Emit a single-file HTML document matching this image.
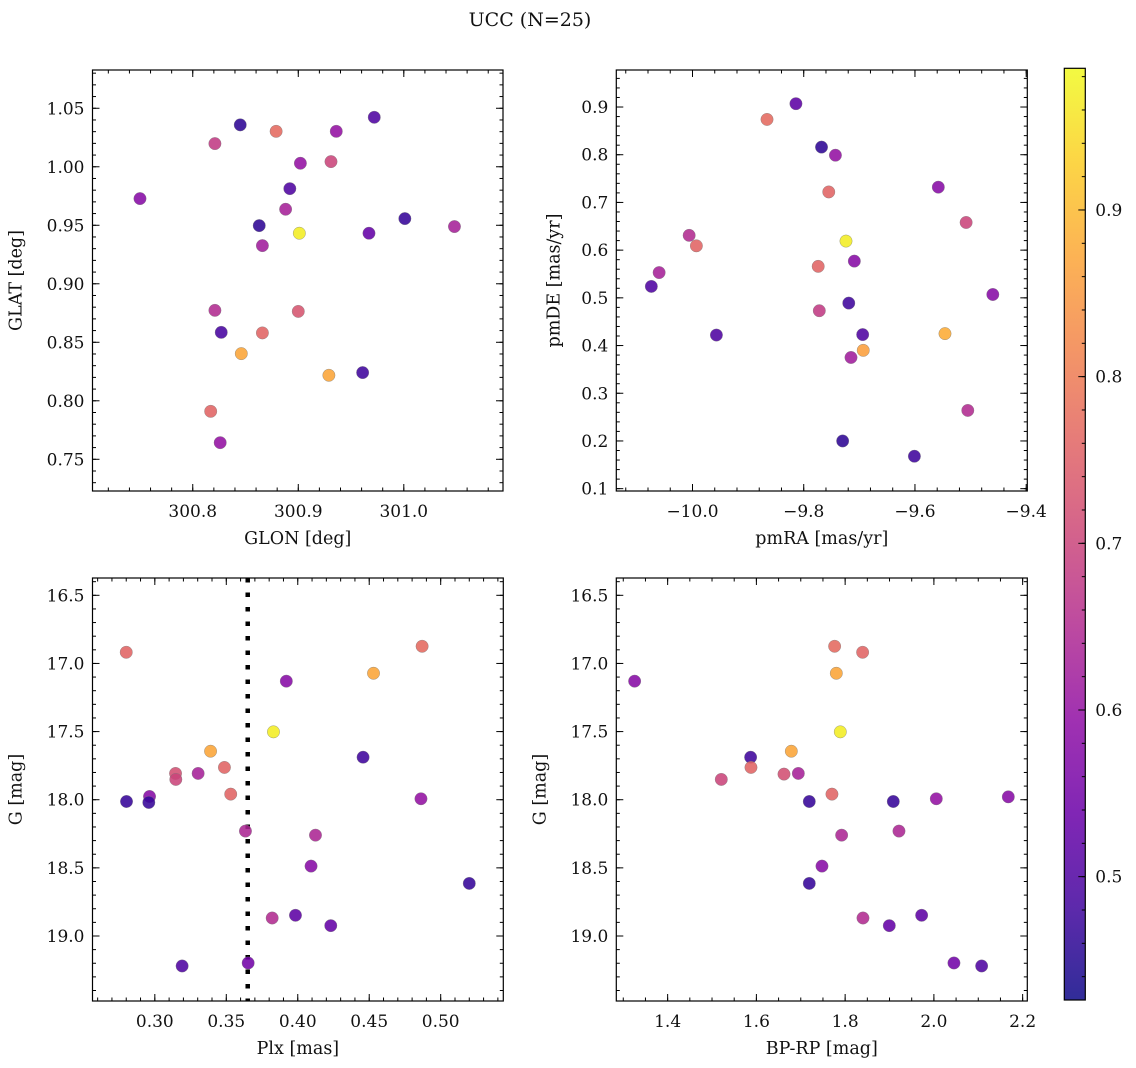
<!DOCTYPE html>
<html><head><meta charset="utf-8"><title>UCC (N=25)</title>
<style>
html,body{margin:0;padding:0;background:#fff;}
svg{display:block;font-family:"DejaVu Serif","Liberation Serif",serif;}
</style></head>
<body>
<svg id="fig" width="1136" height="1068" viewBox="0 0 1136 1068" xmlns="http://www.w3.org/2000/svg">
<defs>
<linearGradient id="plasmaGrad" x1="0" y1="1" x2="0" y2="0"></linearGradient>
</defs>
<text x="530" y="26" text-anchor="middle" font-size="19" fill="#111">UCC (N=25)</text>
</svg>
<script>
// ---- data ----
const prob = [0.58,0.68,0.46,0.77,0.60,0.70,0.60,0.50,0.50,0.63,0.46,0.97,0.62,0.53,0.47,0.63,0.65,0.73,0.49,0.76,0.87,0.87,0.48,0.76,0.60];
const glon = [300.750,300.821,300.845,300.879,300.902,300.931,300.936,300.972,300.892,300.888,300.863,300.901,300.866,300.967,301.001,301.048,300.821,300.900,300.827,300.866,300.846,300.929,300.961,300.817,300.826];
const glat = [0.9728,1.0198,1.0358,1.0303,1.0030,1.0044,1.0303,1.0423,0.9813,0.9637,0.9497,0.9432,0.9326,0.9432,0.9557,0.9489,0.8773,0.8764,0.8585,0.8580,0.8403,0.8218,0.8241,0.7910,0.7642];

const probPM = [0.52,0.77,0.46,0.60,0.76,0.58,0.70,0.65,0.76,0.97,0.63,0.76,0.58,0.50,0.58,0.48,0.68,0.50,0.50,0.88,0.86,0.62,0.65,0.46,0.48];
const pmra = [-9.814,-9.866,-9.768,-9.743,-9.755,-9.558,-9.508,-10.006,-9.993,-9.724,-10.060,-9.774,-9.709,-10.074,-9.460,-9.719,-9.772,-9.957,-9.694,-9.546,-9.693,-9.715,-9.505,-9.730,-9.601];
const pmde = [0.907,0.874,0.816,0.799,0.722,0.732,0.658,0.631,0.609,0.619,0.553,0.566,0.577,0.524,0.507,0.489,0.473,0.422,0.423,0.425,0.390,0.375,0.264,0.200,0.168];

const probPlx = [0.76,0.77,0.87,0.58,0.97,0.87,0.48,0.76,0.72,0.70,0.63,0.76,0.58,0.47,0.47,0.60,0.64,0.64,0.58,0.47,0.65,0.52,0.53,0.50,0.55];
const plx = [0.280,0.487,0.453,0.392,0.383,0.339,0.4457,0.3487,0.3145,0.3147,0.3303,0.3531,0.2963,0.2802,0.2958,0.4862,0.3634,0.4124,0.4093,0.5200,0.3821,0.3984,0.4231,0.3191,0.3653];
const gPlx = [16.918,16.874,17.072,17.130,17.502,17.644,17.688,17.763,17.807,17.851,17.807,17.959,17.976,18.013,18.020,17.993,18.230,18.260,18.487,18.614,18.868,18.848,18.924,19.220,19.198];
const plxLine = [0.365];

const probCMD = [0.58,0.77,0.76,0.87,0.97,0.48,0.87,0.76,0.70,0.72,0.63,0.76,0.47,0.47,0.60,0.58,0.64,0.64,0.58,0.47,0.65,0.53,0.52,0.55,0.50];
const bprp = [1.3256,1.7763,1.8394,1.7801,1.7891,1.5870,1.6787,1.5878,1.5209,1.6622,1.6945,1.7703,1.7192,1.9085,2.0054,2.1677,1.7921,1.9213,1.7478,1.7192,1.8402,1.8995,1.9724,2.0452,2.1076];
const gCMD = [17.130,16.874,16.918,17.072,17.502,17.688,17.644,17.763,17.851,17.812,17.807,17.959,18.013,18.013,17.993,17.979,18.260,18.230,18.487,18.614,18.868,18.924,18.848,19.198,19.220];

const ticksGlon = [300.8,300.9,301.0];
const ticksGlat = [0.75,0.80,0.85,0.90,0.95,1.00,1.05];
const ticksPmra = [-10.0,-9.8,-9.6,-9.4];
const ticksPmde = [0.1,0.2,0.3,0.4,0.5,0.6,0.7,0.8,0.9];
const ticksPlx = [0.30,0.35,0.40,0.45,0.50];
const ticksG = [16.5,17.0,17.5,18.0,18.5,19.0];
const ticksBprp = [1.4,1.6,1.8,2.0,2.2];
const ticksCbar = [0.5,0.6,0.7,0.8,0.9];
const cbarRange = [0.426,0.985];

// ---- helpers ----
const NS = "http://www.w3.org/2000/svg";
const svg = document.getElementById('fig');
function mk(tag, attrs, parent){
  const e = document.createElementNS(NS, tag);
  for (const k in attrs) e.setAttribute(k, attrs[k]);
  (parent||svg).appendChild(e);
  return e;
}
const plasmaStops = ["#0d0887","#41049d","#6a00a8","#8f0da4","#b12a90","#cc4778","#e16462","#f2844b","#fca636","#fcce25","#f0f921"];
function hex2rgb(h){return [parseInt(h.slice(1,3),16),parseInt(h.slice(3,5),16),parseInt(h.slice(5,7),16)];}
function plasma(t){
  t=Math.max(0,Math.min(1,t));
  const f=t*10, i=Math.min(9,Math.floor(f)), r=f-i;
  const a=hex2rgb(plasmaStops[i]), b=hex2rgb(plasmaStops[i+1]);
  return 'rgb('+a.map((v,k)=>Math.round(v+(b[k]-v)*r)).join(',')+')';
}
function colorOf(p){return plasma((p-cbarRange[0])/(cbarRange[1]-cbarRange[0]));}
function fmt(v,d){const s=v.toFixed(d);return v<0?'\u2212'+s.slice(1):s;}

const TFS = 17, LFS = 17.5;
function panel(o){
  const g = mk('g',{});
  
  
  const sx = v => o.x0 + (v-o.xmin)/(o.xmax-o.xmin)*(o.x1-o.x0);
  const sy = o.yinv ? (v => o.y0 + (v-o.ymin)/(o.ymax-o.ymin)*(o.y1-o.y0))
                    : (v => o.y1 - (v-o.ymin)/(o.ymax-o.ymin)*(o.y1-o.y0));
  const tg = mk('g',{stroke:'#000','stroke-width':1},g);
  
  
  const minorX=[],minorY=[];
  for(let v=Math.ceil(o.xmin/o.xminor)*o.xminor; v<=o.xmax; v+=o.xminor) minorX.push(v);
  for(let v=Math.ceil(o.ymin/o.yminor)*o.yminor; v<=o.ymax; v+=o.yminor) minorY.push(v);
  minorX.forEach(v=>{const x=sx(v);mk('line',{x1:x,x2:x,y1:o.y1,y2:o.y1-3.5},tg);mk('line',{x1:x,x2:x,y1:o.y0,y2:o.y0+3.5},tg);});
  minorY.forEach(v=>{const y=sy(v);mk('line',{x1:o.x0,x2:o.x0+3.5,y1:y,y2:y},tg);mk('line',{x1:o.x1,x2:o.x1-3.5,y1:y,y2:y},tg);});
  o.xt.forEach(v=>{const x=sx(v);mk('line',{x1:x,x2:x,y1:o.y1,y2:o.y1-7},tg);mk('line',{x1:x,x2:x,y1:o.y0,y2:o.y0+7},tg);
    const t=mk('text',{x:x,y:o.y1+26,'text-anchor':'middle','font-size':TFS,fill:'#111',stroke:'none'},g);t.textContent=fmt(v,o.xd);
    
    });
  o.yt.forEach(v=>{const y=sy(v);mk('line',{x1:o.x0,x2:o.x0+7,y1:y,y2:y},tg);mk('line',{x1:o.x1,x2:o.x1-7,y1:y,y2:y},tg);
    const t=mk('text',{x:o.x0-8,y:y+6,'text-anchor':'end','font-size':TFS,fill:'#111',stroke:'none'},g);t.textContent=fmt(v,o.yd);
    
    });
  const xl=mk('text',{x:(o.x0+o.x1)/2,y:o.y1+53,'text-anchor':'middle','font-size':LFS,fill:'#111'},g);xl.textContent=o.xlabel;
  
  
  const yx=o.x0-o.ylOff, yy=(o.y0+o.y1)/2;
  const yl=mk('text',{x:yx,y:yy,'text-anchor':'middle','font-size':LFS,fill:'#111',transform:'rotate(-90 '+yx+' '+yy+')'},g);yl.textContent=o.ylabel;
  
  
  if(o.vline){o.vline.forEach(v=>{const l=mk('line',{x1:sx(v),x2:sx(v),y1:o.y0,y2:o.y1,stroke:'#000','stroke-width':4.5,'stroke-dasharray':'4.5 10'},g);
    
    });}
  const pg=mk('g',{},g);
  
  
  o.xs.forEach((xv,i)=>{
    const c=mk('circle',{cx:sx(xv),cy:sy(o.ys[i]),r:6.2,fill:colorOf(o.c[i]),'fill-opacity':0.88,stroke:'#777','stroke-width':0.5,'stroke-opacity':0.7},pg);
    
    
  });
  const f=mk('rect',{x:o.x0,y:o.y0,width:o.x1-o.x0,height:o.y1-o.y0,fill:'none',stroke:'#000','stroke-width':1.2},g);
  
  
}

panel({name:'glon-glat-panel',x0:92.5,x1:503,y0:70,y1:491,xmin:300.705,xmax:301.094,ymin:0.7229,ymax:1.0827,
  xt:ticksGlon,yt:ticksGlat,xd:1,yd:2,xminor:0.02,yminor:0.01,xs:glon,ys:glat,c:prob,xlabel:'GLON [deg]',ylabel:'GLAT [deg]',ylOff:71});
panel({name:'pm-panel',x0:616.3,x1:1027.3,y0:70,y1:491,xmin:-10.137,xmax:-9.398,ymin:0.0951,ymax:0.9776,
  xt:ticksPmra,yt:ticksPmde,xd:1,yd:1,xminor:0.04,yminor:0.02,xs:pmra,ys:pmde,c:probPM,xlabel:'pmRA [mas/yr]',ylabel:'pmDE [mas/yr]',ylOff:57});
panel({name:'plx-g-panel',x0:92.5,x1:503.3,y0:578,y1:1001,xmin:0.2564,xmax:0.5438,ymin:16.373,ymax:19.477,yinv:true,
  xt:ticksPlx,yt:ticksG,xd:2,yd:1,xminor:0.01,yminor:0.1,xs:plx,ys:gPlx,c:probPlx,xlabel:'Plx [mas]',ylabel:'G [mag]',ylOff:71,vline:plxLine});
panel({name:'cmd-panel',x0:616.3,x1:1027.3,y0:578,y1:1001,xmin:1.2843,xmax:2.2105,ymin:16.373,ymax:19.477,yinv:true,
  xt:ticksBprp,yt:ticksG,xd:1,yd:1,xminor:0.05,yminor:0.1,xs:bprp,ys:gCMD,c:probCMD,xlabel:'BP-RP [mag]',ylabel:'G [mag]',ylOff:71});

// ---- colorbar ----
const grad=document.getElementById('plasmaGrad');
for(let i=0;i<=20;i++){mk('stop',{offset:(i/20),'stop-color':plasma(i/20)},grad);}
const cb={x0:1064.3,x1:1085.3,y0:68.3,y1:1000};
const cg=mk('g',{});


const cbr=mk('rect',{x:cb.x0,y:cb.y0,width:cb.x1-cb.x0,height:cb.y1-cb.y0,fill:'url(#plasmaGrad)','fill-opacity':0.85},cg);


const cy=v=>cb.y1-(v-cbarRange[0])/(cbarRange[1]-cbarRange[0])*(cb.y1-cb.y0);
for(let v=0.44;v<=cbarRange[1];v+=0.02){const y=cy(v);mk('line',{x1:cb.x1,x2:cb.x1-3.5,y1:y,y2:y,stroke:'#000','stroke-width':1},cg);}
ticksCbar.forEach(v=>{const y=cy(v);mk('line',{x1:cb.x1,x2:cb.x1-7,y1:y,y2:y,stroke:'#000','stroke-width':1},cg);
  const t=mk('text',{x:cb.x1+10,y:y+6,'font-size':TFS,fill:'#111'},cg);t.textContent=v.toFixed(1);
  
  });
const cbf=mk('rect',{x:cb.x0,y:cb.y0,width:cb.x1-cb.x0,height:cb.y1-cb.y0,fill:'none',stroke:'#000','stroke-width':1.2},cg);


</script>
</body></html>
